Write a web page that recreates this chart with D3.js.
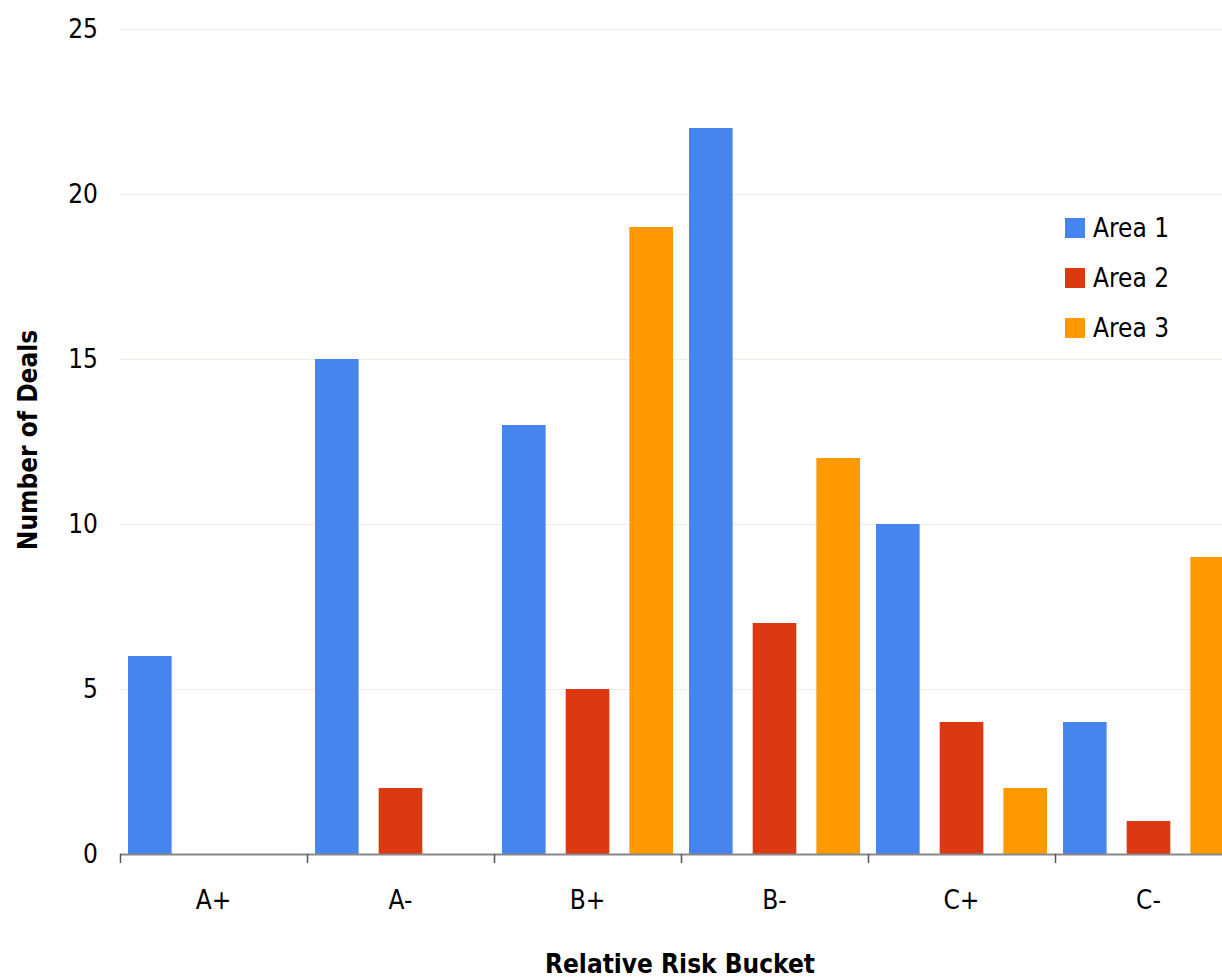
<!DOCTYPE html>
<html><head><meta charset="utf-8">
<script src="https://cdn.jsdelivr.net/npm/d3@7"></script>
<style>body{margin:0;background:#fff;overflow:hidden}svg{display:block}text{font-family:"DejaVu Sans Condensed","DejaVu Sans",sans-serif;font-stretch:condensed;fill:#000}</style>
</head><body>
<svg id="c" width="1222" height="979"></svg>
<script>
const categories = ["A+", "A-", "B+", "B-", "C+", "C-"];
const seriesNames = ["Area 1", "Area 2", "Area 3"];
const area1 = [6, 15, 13, 22, 10, 4];
const area2 = [0, 2, 5, 7, 4, 1];
const area3 = [0, 0, 19, 12, 2, 9];
const yTicks = [0, 5, 10, 15, 20, 25];
const colors = ["#4684ee", "#dc3912", "#ff9900"];

const seriesValues = [area1, area2, area3];
const svg = d3.select("#c");
const x0 = 120, bandW = 187, yBottom = 854, yTop = 29;
const x = d3.scaleBand().domain(categories).range([x0, x0 + bandW * categories.length]).padding(0);
const xs = d3.scaleBand().domain(seriesNames).range([8, bandW - 8]).paddingInner(0.315).paddingOuter(0);
const y = d3.scaleLinear().domain([0, 25]).range([yBottom, yTop]);

// gridlines
svg.append("g").selectAll("line").data(yTicks.filter(t => t > 0)).join("line")
  .attr("x1", x0).attr("x2", 1222).attr("y1", d => y(d) + 0.5).attr("y2", d => y(d) + 0.5)
  .attr("stroke", "#eeeee6").attr("stroke-width", 1);

// y tick labels
svg.append("g").selectAll("text").data(yTicks).join("text")
  .attr("x", 98).attr("y", d => y(d)).attr("dy", "0.36em").attr("text-anchor", "end")
  .attr("font-size", 26).text(d => d);

// bars
const g = svg.append("g");
categories.forEach((c, i) => {
  seriesNames.forEach((s, j) => {
    const v = seriesValues[j][i];
    if (v <= 0) return;
    g.append("rect").attr("x", x(c) + xs(s)).attr("width", xs.bandwidth())
      .attr("y", y(v)).attr("height", y(0) - y(v)).attr("fill", colors[j]);
  });
});

// x axis
svg.append("line").attr("x1", x0).attr("x2", 1222).attr("y1", yBottom + 0.5).attr("y2", yBottom + 0.5)
  .attr("stroke", "#888").attr("stroke-width", 2);
svg.append("g").selectAll("line").data(categories).join("line")
  .attr("x1", d => x(d) + 0.5).attr("x2", d => x(d) + 0.5)
  .attr("y1", yBottom).attr("y2", yBottom + 9).attr("stroke", "#555").attr("stroke-width", 1.5);
svg.append("g").selectAll("text").data(categories).join("text")
  .attr("x", d => x(d) + x.bandwidth() / 2).attr("y", 900).attr("dy", "0.36em")
  .attr("text-anchor", "middle").attr("font-size", 26).text(d => d);

// axis titles
svg.append("text").attr("x", 680).attr("y", 964).attr("dy", "0.36em").attr("text-anchor", "middle")
  .attr("font-size", 26).attr("font-weight", "bold").text("Relative Risk Bucket");
svg.append("text").attr("transform", "translate(28,440) rotate(-90)").attr("dy", "0.36em")
  .attr("text-anchor", "middle").attr("font-size", 26).attr("font-weight", "bold").text("Number of Deals");

// legend
const lg = svg.append("g").selectAll("g").data(seriesNames).join("g")
  .attr("transform", (d, i) => `translate(1065,${228 + i * 50})`);
lg.append("rect").attr("x", 0).attr("y", -10).attr("width", 20).attr("height", 20).attr("fill", (d, i) => colors[i]);
lg.append("text").attr("x", 28).attr("y", 0).attr("dy", "0.36em").attr("font-size", 26).text(d => d);
</script>
</body></html>
